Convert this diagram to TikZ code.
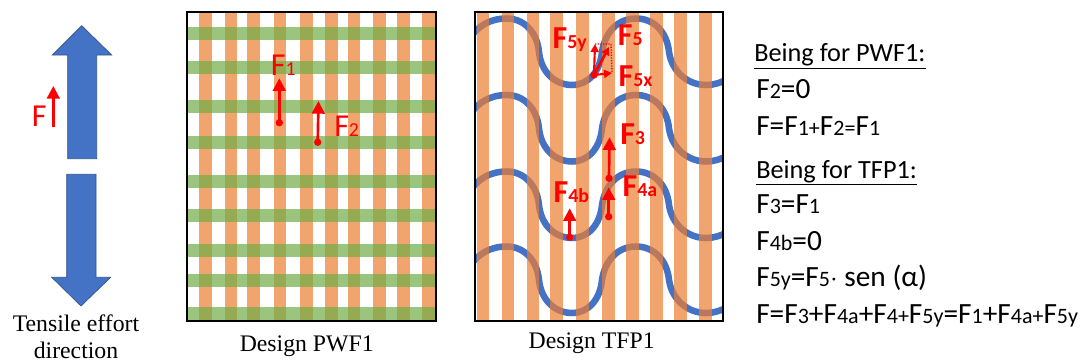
\documentclass[tikz,border=0pt]{standalone}
\usepackage{fontspec}
\setmainfont{Carlito}
\newfontfamily\serifface{Liberation Serif}
\usetikzlibrary{arrows.meta}

% smaller digits that stay on the baseline
\makeatletter
\newcommand{\low}[1]{{\fontsize{\strip@pt\dimexpr0.62\dimexpr\f@size pt\relax\relax}{0}\selectfont #1}}
\newcommand{\eqlow}[1]{{\fontsize{\strip@pt\dimexpr0.75\dimexpr\f@size pt\relax\relax}{0}\selectfont #1}}
\makeatother

\definecolor{stripeorange}{HTML}{ED7D31}
\definecolor{stripegreen}{HTML}{70AD47}
\definecolor{yarnblue}{HTML}{4472C4}
\definecolor{bigarrow}{HTML}{4472C4}
\definecolor{bigedge}{HTML}{2F528F}

\begin{document}
\begin{tikzpicture}[
    x=0.75pt, y=-0.75pt,
    warp/.style={fill=stripeorange, opacity=0.7},
    weft/.style={fill=stripegreen, opacity=0.7},
    yarn/.style={draw=yarnblue, line width=4.9pt},
    frame/.style={draw=black, line width=1.9pt},
    bigshape/.style={fill=bigarrow, draw=bigedge, line width=0.5pt},
    force/.style={-{Triangle[length=9.5pt, width=9.5pt]}, draw=red, line width=2pt},
    thinforce/.style={-{Triangle[length=6pt, width=6pt]}, draw=red, line width=1.6pt},
    helper/.style={draw=red, line width=1pt, densely dotted},
    dot/.style={circle, fill=red, inner sep=0pt, minimum size=5.5pt},
    flabel/.style={anchor=base west, inner sep=0pt, text=red, font=\fontsize{24}{28}\selectfont},
    blabel/.style={flabel, font=\bfseries\fontsize{24}{28}\selectfont},
    eqn/.style={anchor=base west, inner sep=0pt, font=\fontsize{22}{24}\selectfont},
    eqhead/.style={anchor=base west, inner sep=0pt, font=\fontsize{19.7}{24}\selectfont},
    caption/.style={anchor=base, inner sep=0pt, font=\serifface\fontsize{17.8}{20}\selectfont},
]
\useasboundingbox (0,0) rectangle (1089,364);

% ---------- Tensile arrows ----------
\draw[bigshape] (81.7,25.7) -- (111.7,55) -- (96.7,55) -- (96.7,158.7) -- (67.7,158.7) -- (67.7,55) -- (52.3,55) -- cycle;
\draw[bigshape] (81,306) -- (110.7,277.3) -- (96,277.3) -- (96,174.3) -- (66.7,174.3) -- (66.7,277.3) -- (51.7,277.3) -- cycle;
\coordinate (ftail) at (53.3,127.3);
\coordinate (ftip) at (53.3,86);
\draw[force] (ftail) -- (ftip);
\node[flabel] (flab) at (31.7,126) {F};
\node[caption] (tensile) at (76,331.7) {Tensile effort};
\node[caption] (direction) at (76,358) {direction};

% ---------- Design PWF1 ----------
\foreach \x in {199.3,224.7,247.3,273.7,300,325,347.7,373,397,422}
    \fill[warp] (\x,12) rectangle ++(12.7,309);
\foreach \y in {27.3,61.3,100.3,136,175,209.3,244,273.7,306.7}
    \fill[weft] (187,\y) rectangle ++(249,13);
\draw[frame] (187,12) rectangle (436,321);

\node[dot] (f1tail) at (279.3,122.7) {};
\coordinate (f1tip) at (279.3,78.3);
\draw[force] (f1tail.center) -- (f1tip);
\node[flabel] (f1lab) at (270.7,75) {F\low{1}};
\node[dot] (f2tail) at (317.7,142.3) {};
\coordinate (f2tip) at (318.5,101);
\draw[force] (f2tail.center) -- (f2tip);
\node[flabel] (f2lab) at (334,136.7) {F\low{2}};
\node[caption] (pwf) at (306.7,351.7) {Design PWF1};

% ---------- Design TFP1 ----------
\begin{scope}
\clip (475,12) rectangle (723,321);
\foreach \y in {0,76.5,153,228}
    \draw[yarn] (470,38+\y) .. controls (478,26+\y) and (490,18.5+\y) .. (506.7,18.5+\y)
        .. controls (524,18.5+\y) and (537,32+\y) .. (539,52+\y)
        .. controls (541,72+\y) and (555,85+\y) .. (572,85+\y)
        .. controls (588,85+\y) and (600,72+\y) .. (602,52+\y)
        .. controls (605,32+\y) and (618,18.5+\y) .. (636,18.5+\y)
        .. controls (654,18.5+\y) and (667,32+\y) .. (669,52+\y)
        .. controls (672,72+\y) and (688,85+\y) .. (706,85+\y)
        .. controls (714,85+\y) and (720,83+\y) .. (730,78+\y);
\end{scope}
\foreach \x in {476.7,501.7,526.7,550,576,602,626.3,650.3,674.3,699}
    \fill[warp] (\x,12) rectangle ++(12.7,309);
\draw[frame] (475,12) rectangle (723,321);

\node[dot] (f5tail) at (594,75) {};
\coordinate (f5tip) at (609,47);
\coordinate (f5ytip) at (595,44);
\coordinate (f5xtip) at (612,73);
\coordinate (f5corner) at (611,44);
\draw[helper] (f5ytip) -- (f5corner) -- (f5xtip);
\draw[thinforce] (f5tail.center) -- (f5ytip);
\draw[thinforce] (f5tail.center) -- (f5xtip);
\draw[thinforce, line width=2pt] (f5tail.center) -- (f5tip);
\node[blabel] (f5ylab) at (552.3,48.3) {F\low{5y}};
\node[blabel] (f5lab) at (617.7,45) {F\low{5}};
\node[blabel] (f5xlab) at (618.3,86.7) {F\low{5x}};

\node[dot] (f3tail) at (609,178.3) {};
\coordinate (f3tip) at (609.5,137.3);
\draw[force] (f3tail.center) -- (f3tip);
\node[blabel] (f3lab) at (620,144) {F\low{3}};

\node[dot] (f4atail) at (608.7,216.7) {};
\coordinate (f4atip) at (608.7,187.3);
\draw[force] (f4atail.center) -- (f4atip);
\node[blabel] (f4alab) at (622.3,196) {F\low{4a}};

\node[dot] (f4btail) at (569.7,237.3) {};
\coordinate (f4btip) at (569.7,208.3);
\draw[force] (f4btail.center) -- (f4btip);
\node[blabel] (f4blab) at (553.3,202.3) {F\low{4b}};
\node[caption] (tfp) at (591.7,348.3) {Design TFP1};

% ---------- Equations ----------
\node[eqhead] (headpwf) at (754,61.7) {\underline{Being for PWF1:}};
\node[eqn] (eqa) at (756,98.3) {F\eqlow{2}=0};
\node[eqn] (eqb) at (756,135) {F=F\eqlow{1+}F\eqlow{2=}F\eqlow{1}};
\node[eqhead] (headtfp) at (756,178.3) {\underline{Being for TFP1:}};
\node[eqn] (eqc) at (756,213.3) {F\eqlow{3}=F\eqlow{1}};
\node[eqn] (eqd) at (756,250) {F\eqlow{4b}=0};
\node[eqn] (eqe) at (756,286.7) {F\eqlow{5y}=F\eqlow{5}$\cdot$ sen (α)};
\node[eqn] (eqf) at (756,323.3) {F=F\eqlow{3}+F\eqlow{4a}+F\eqlow{4+}F\eqlow{5y}=F\eqlow{1}+F\eqlow{4a+}F\eqlow{5y}};
\end{tikzpicture}
\end{document}
